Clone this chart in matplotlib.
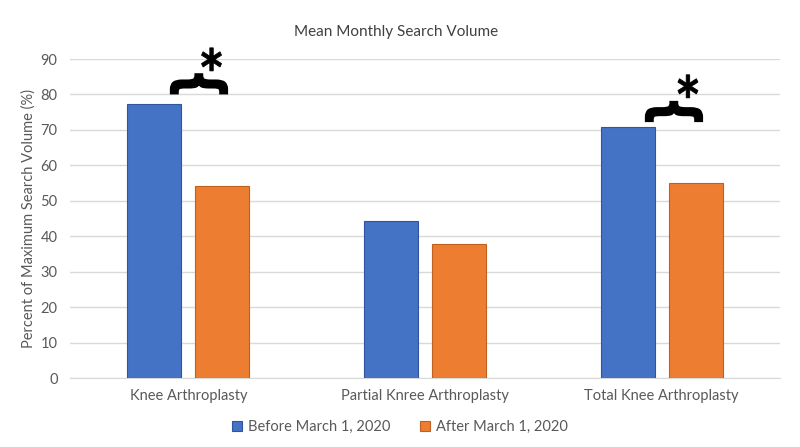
import numpy as np
import matplotlib
matplotlib.use("Agg")
import matplotlib.pyplot as plt
from matplotlib.textpath import TextPath
from matplotlib.font_manager import FontProperties
from matplotlib.patches import PathPatch
from matplotlib.transforms import Affine2D, ScaledTranslation

plt.rcParams['font.family'] = ['Lato', 'DejaVu Sans']

# data
categories = ['Knee Arthroplasty', 'Partial Knree Arthroplasty', 'Total Knee Arthroplasty']
before = [77.3, 44.3, 70.8]
after = [54.2, 37.8, 55.0]
series_names = ['Before March 1, 2020', 'After March 1, 2020']
# significance marks: (brace x, brace y, star x, star y) in data units
sig_marks = [(0.045, 83.0, 0.098, 89.9), (2.052, 75.2, 2.111, 82.3)]

blue = '#4472c4'
orange = '#ed7d31'
grey = '#595959'

fig = plt.figure(figsize=(8, 4.47), dpi=100)
ax = fig.add_axes([0.0875, 0.154, 0.8875, 0.714])

x = np.arange(len(categories))
w = 0.228
off = 0.144
ax.bar(x - off, before, w, color=blue, edgecolor='#2f55a0', linewidth=0.8,
       label=series_names[0], zorder=3)
ax.bar(x + off, after, w, color=orange, edgecolor='#c0601e', linewidth=0.8,
       label=series_names[1], zorder=3)

ax.set_xlim(-0.5, 2.5)
ax.set_ylim(0, 90)
ax.set_yticks(np.arange(0, 91, 10))
ax.set_xticks(x)
ax.set_xticklabels(categories)
ax.grid(axis='y', color='#d9d9d9', linewidth=1, zorder=0)
for s in ['top', 'right', 'left']:
    ax.spines[s].set_visible(False)
ax.spines['bottom'].set_color('#d9d9d9')
ax.tick_params(axis='both', length=0, colors=grey, labelsize=10.5)
ax.tick_params(axis='y', pad=9)
ax.tick_params(axis='x', pad=8)
ax.set_ylabel('Percent of Maximum Search Volume (%)', color=grey, fontsize=10.5, labelpad=3)
fig.text(0.495, 0.928, 'Mean Monthly Search Volume', color='#404040', fontsize=11,
         ha='center', va='center')


def glyph(ch, cx, cy, wpx, hpx, rot=0, lw=0.0):
    # glyph outline scaled to wpx x hpx pixels, centred on data point (cx, cy)
    tp = TextPath((0, 0), ch, size=50,
                  prop=FontProperties(family='DejaVu Sans', weight='bold'))
    e = tp.get_extents()
    t = Affine2D().translate(-(e.x0 + e.x1) / 2, -(e.y0 + e.y1) / 2).rotate_deg(rot)
    p = t.transform_path(tp)
    e2 = p.get_extents()
    p = Affine2D().scale(wpx / e2.width, hpx / e2.height).transform_path(p)
    patch = PathPatch(p, transform=ScaledTranslation(cx, cy, ax.transData),
                      fc='black', ec='black', lw=lw, zorder=4, clip_on=False)
    ax.add_patch(patch)


for bx, by, sx, sy in sig_marks:
    glyph('{', bx, by, 56, 19, rot=-90, lw=1.6)
    glyph('*', sx, sy, 20, 23, lw=0.6)

fig.legend(loc='lower center', ncol=2, frameon=False, fontsize=10.5,
           bbox_to_anchor=(0.5, 0.0), handlelength=0.7, handleheight=0.7,
           handletextpad=0.4, columnspacing=2.0, labelcolor=grey)

fig.savefig('out.png', dpi=100)
